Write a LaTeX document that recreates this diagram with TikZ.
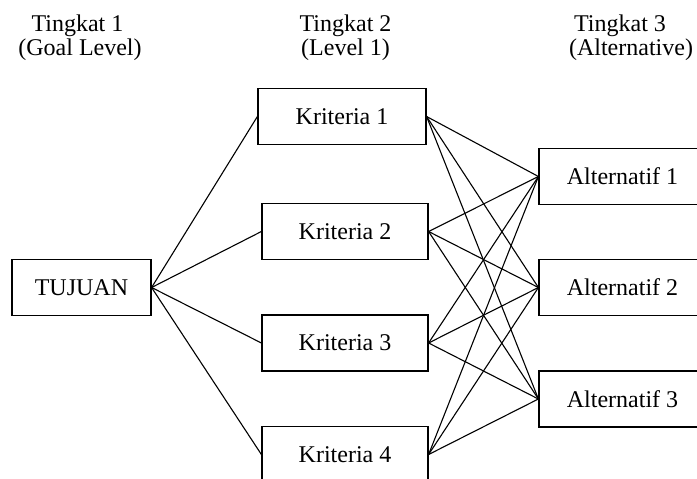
\documentclass[tikz,border=0pt]{standalone}
\usepackage{fontspec}
\setmainfont{Liberation Serif}
\begin{document}
\begin{tikzpicture}[x=1pt,y=-1pt,
  box/.style={draw,line width=1.2pt,minimum width=#1,minimum height=56pt,
    inner sep=0pt,font=\fontsize{24}{28}\selectfont},
  box/.default=166pt,
  head/.style={inner sep=0pt,anchor=base,font=\fontsize{24}{28}\selectfont},
  link/.style={line width=1.1pt}]
\useasboundingbox (0,0) rectangle (697,479);
\clip (0,0) rectangle (697,479);

% level headings
\node[head] (t1) at (77.5,31) {Tingkat 1};
\node[head] (g1) at (80,56) {(Goal Level)};
\node[head] (t2) at (345.5,31) {Tingkat 2};
\node[head] (g2) at (345.5,56) {(Level 1)};
\node[head] (t3) at (620,31) {Tingkat 3};
\node[head] (g3) at (631,56) {(Alternative)};

% goal
\node[box=139pt] (goal) at (81.5,287.5) {TUJUAN};

% criteria
\node[box=168pt] (k1) at (342,116.5) {Kriteria 1};
\node[box] (k2) at (345,231.5) {Kriteria 2};
\node[box] (k3) at (345,343) {Kriteria 3};
\node[box] (k4) at (345,454.5) {Kriteria 4};

% alternatives
\node[box=167pt] (a1) at (622.5,176.5) {Alternatif 1};
\node[box=167pt] (a2) at (622.5,287.5) {Alternatif 2};
\node[box=167pt] (a3) at (622.5,399) {Alternatif 3};

% goal to every criterion
\foreach \k in {k1,k2,k3,k4}
  \draw[link] (goal.east) -- (\k.west);

% every criterion to every alternative
\foreach \k in {k1,k2,k3,k4}
  \foreach \a in {a1,a2,a3}
    \draw[link] (\k.east) -- (\a.west);
\end{tikzpicture}
\end{document}
